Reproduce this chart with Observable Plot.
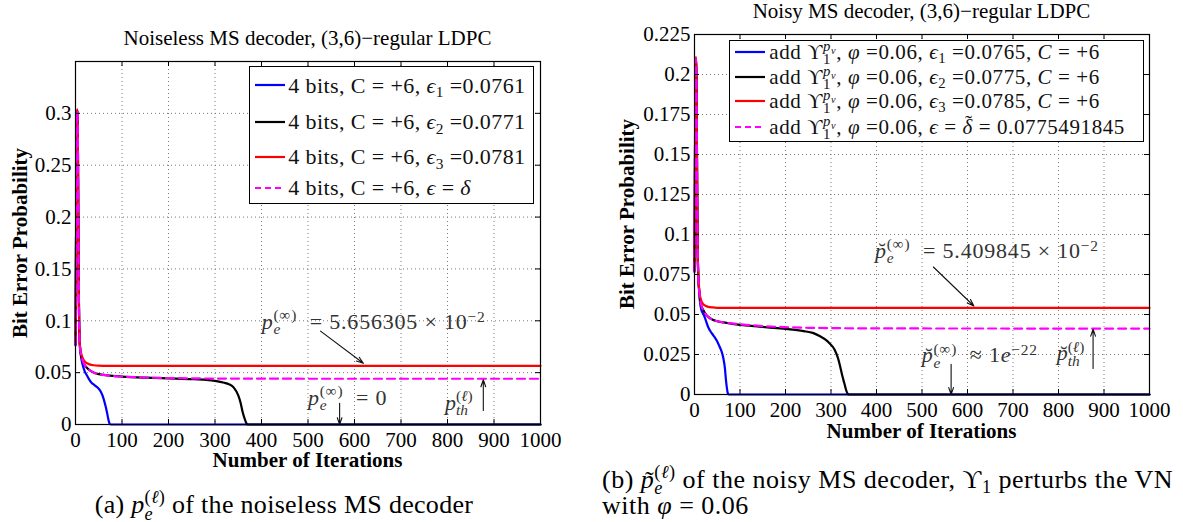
<!DOCTYPE html>
<html><head><meta charset="utf-8">
<script src="https://cdn.jsdelivr.net/npm/d3@7"></script>
<script src="https://cdn.jsdelivr.net/npm/@observablehq/plot@0.6"></script>
<style>
html,body{margin:0;padding:0;background:#fff;}
#wrap{position:relative;width:1183px;height:522px;overflow:hidden;font-family:"Liberation Serif","Times New Roman","DejaVu Serif",serif;color:#000;background:#fff;}
.pl{position:absolute;top:0;}
.t{position:absolute;white-space:nowrap;line-height:1;}
.ss{display:inline-block;position:relative;font-size:.7em;line-height:1;}
.ss .up{display:block;position:relative;top:-.55em;}
.ss .dn{position:absolute;left:0;top:.357em;}
.sb{position:relative;top:.28em;font-size:.7em;}
.sp{position:relative;top:-.45em;font-size:.7em;}
.acc{position:relative;display:inline-block;}
.acc .mk{position:absolute;font-style:normal;}
.leg{position:absolute;box-sizing:border-box;border:1.3px solid #000;background:#fff;}
</style>
</head><body>
<div id="wrap"></div>
<script>
// ---------- data: panel (a) noiseless MS decoder ----------
const xTicks = [0,100,200,300,400,500,600,700,800,900,1000];
const yTicksA = [0,0.05,0.1,0.15,0.2,0.25,0.3];
const yTicksB = [0,0.025,0.05,0.075,0.1,0.125,0.15,0.175,0.2,0.225];

const itBlueA = [0,1,2,3,4,5,6,7,8,9,10,12,15,20,25,30,35,40,45,50,55,60,65,68,70,72,74,76,100,400,1000];
const pBlueA  = [0.0761,0.16,0.25,0.295,0.303,0.28,0.2,0.13,0.095,0.08,0.072,0.065,0.058,0.051,0.047,0.043,0.040,0.0383,0.0365,0.0345,0.031,0.0255,0.017,0.011,0.0065,0.0025,0.0003,0,0,0,0];
const itBlackA = [0,1,2,3,4,5,6,7,8,9,10,12,15,20,25,30,40,50,60,80,100,150,200,250,280,300,320,330,340,350,355,360,365,368,370,400,1000];
const pBlackA  = [0.0771,0.16,0.25,0.295,0.303,0.28,0.2,0.13,0.095,0.08,0.073,0.067,0.062,0.057,0.0545,0.0525,0.050,0.0486,0.0478,0.0468,0.0462,0.0452,0.0445,0.0438,0.0430,0.0420,0.0402,0.0388,0.0358,0.028,0.021,0.011,0.004,0.0008,0,0,0];
const itRedA = [0,1,2,3,4,5,6,7,8,9,10,12,15,20,25,30,40,50,70,100,1000];
const pRedA  = [0.0781,0.16,0.25,0.295,0.304,0.28,0.2,0.13,0.095,0.08,0.074,0.069,0.0645,0.0607,0.0590,0.0580,0.0571,0.0568,0.0566,0.05657,0.05656];
const itMagA = [0,1,2,3,4,5,6,7,8,9,10,12,15,20,25,30,40,50,60,80,100,150,200,250,300,400,600,1000];
const pMagA  = [0.0775,0.16,0.25,0.295,0.302,0.28,0.2,0.13,0.095,0.08,0.073,0.067,0.062,0.057,0.0545,0.0525,0.050,0.0486,0.0478,0.0468,0.0462,0.0453,0.0448,0.0445,0.0443,0.0442,0.0441,0.0441];

// ---------- data: panel (b) noisy MS decoder ----------
const itBlueB = [0,1,2,3,4,5,6,7,8,9,10,12,15,20,25,30,35,40,45,50,55,60,64,67,69,71,73,75,100,1000];
const pBlueB  = [0.0765,0.14,0.195,0.21,0.203,0.17,0.12,0.09,0.077,0.07,0.065,0.058,0.053,0.050,0.0462,0.0422,0.0395,0.0375,0.0355,0.0332,0.030,0.0265,0.0218,0.016,0.0094,0.0045,0.001,0,0,0];
const itBlackB = [0,1,2,3,4,5,6,7,8,9,10,12,15,20,25,30,40,50,60,80,120,160,200,240,260,276,290,296,308,315,320,325,329,333,337,340,1000];
const pBlackB  = [0.0775,0.14,0.195,0.21,0.203,0.17,0.12,0.09,0.077,0.07,0.066,0.060,0.0555,0.0525,0.050,0.0485,0.0467,0.0458,0.0452,0.0443,0.0430,0.0420,0.0410,0.0396,0.0385,0.0364,0.0338,0.0322,0.028,0.023,0.0177,0.0115,0.0073,0.003,0.0003,0,0];
const itRedB = [0,1,2,3,4,5,6,7,8,9,10,12,15,20,25,30,40,50,70,100,1000];
const pRedB  = [0.0785,0.14,0.195,0.211,0.205,0.17,0.12,0.09,0.078,0.071,0.067,0.062,0.0585,0.0562,0.0553,0.0548,0.0544,0.0542,0.05412,0.0541,0.0541];
const itMagB = [0,1,2,3,4,5,6,7,8,9,10,12,15,20,25,30,40,50,60,80,120,160,200,250,300,400,600,1000];
const pMagB  = [0.07755,0.14,0.195,0.21,0.203,0.17,0.12,0.09,0.077,0.07,0.066,0.060,0.0555,0.0525,0.050,0.0485,0.0467,0.0458,0.0452,0.0445,0.0434,0.0426,0.0421,0.0417,0.0415,0.0413,0.04125,0.0412];

// annotation arrows (data units)
const arrowsA = [{x1:527,y1:0.090,x2:619,y2:0.059},{x1:568,y1:0.0205,x2:568,y2:0},{x1:877,y1:0.0135,x2:877,y2:0.0431}];
const arrowsB = [{x1:525,y1:0.0797,x2:614,y2:0.0553},{x1:564,y1:0.0189,x2:564,y2:0},{x1:876,y1:0.0163,x2:876,y2:0.0408}];

const colors = {blue:"#0000ff", black:"#000000", red:"#ff0000", mag:"#ff00ff"};

function series(it, p){ return it.map((x,i)=>({x, y:p[i]})); }

function panel({width, height, mt, mr, mb, ml, ymax, yTicks, curves, arrows}){
  const ih = height - mt - mb, iw = width - ml - mr;
  const fmt = d => String(d);
  return Plot.plot({
    width, height, marginTop: mt, marginRight: mr, marginBottom: mb, marginLeft: ml,
    x: {domain: [0, 1000]},
    y: {domain: [0, ymax]},
    style: {fontFamily: '"Liberation Serif","Times New Roman",serif', fontSize: "21px", background: "transparent", overflow: "visible", color: "#000"},
    marks: [
      Plot.gridX(xTicks, {stroke: "#7a7a7a", strokeOpacity: 1, strokeDasharray: "1,3", strokeWidth: 1}),
      Plot.gridY(yTicks, {stroke: "#7a7a7a", strokeOpacity: 1, strokeDasharray: "1,3", strokeWidth: 1}),
      ...curves.map(c => Plot.line(series(c.it, c.p), {x: "x", y: "y", stroke: c.color, strokeWidth: 2.2, curve: "monotone-x", strokeDasharray: c.dash || null})),
      Plot.ruleX(xTicks, {insetTop: ih - 5, stroke: "#000"}),
      Plot.ruleX(xTicks, {insetBottom: ih - 5, stroke: "#000"}),
      Plot.ruleY(yTicks, {insetRight: iw - 5, stroke: "#000"}),
      Plot.ruleY(yTicks, {insetLeft: iw - 5, stroke: "#000"}),
      Plot.frame({stroke: "#000", strokeWidth: 1.2}),
      Plot.axisX(xTicks, {tickSize: 0, tickPadding: 8, label: null, tickFormat: fmt}),
      Plot.axisY(yTicks, {tickSize: 0, tickPadding: 4, label: null, tickFormat: fmt}),
      Plot.arrow(arrows, {x1: "x1", y1: "y1", x2: "x2", y2: "y2", stroke: "#111", strokeWidth: 1.1, headLength: 10, headAngle: 38})
    ]
  });
}

const wrap = document.getElementById("wrap");

const plotA = panel({width: 591, height: 522, mt: 61, mr: 51, mb: 98, ml: 75, ymax: 0.35, yTicks: yTicksA, arrows: arrowsA,
  curves: [
    {it: itBlueA, p: pBlueA, color: colors.blue},
    {it: itBlackA, p: pBlackA, color: colors.black},
    {it: itRedA, p: pRedA, color: colors.red},
    {it: itMagA, p: pMagA, color: colors.mag, dash: "8,5"}
  ]});
plotA.classList.add("pl"); plotA.style.left = "0px";
wrap.appendChild(plotA);

const plotB = panel({width: 592, height: 522, mt: 34, mr: 34, mb: 128, ml: 103, ymax: 0.225, yTicks: yTicksB, arrows: arrowsB,
  curves: [
    {it: itBlueB, p: pBlueB, color: colors.blue},
    {it: itBlackB, p: pBlackB, color: colors.black},
    {it: itRedB, p: pRedB, color: colors.red},
    {it: itMagB, p: pMagB, color: colors.mag, dash: "8,5"}
  ]});
plotB.classList.add("pl"); plotB.style.left = "591px";
wrap.appendChild(plotB);

// ---------- text helpers ----------
function ss(up, dn){ return `<span class="ss"><span class="up">${up}</span><span class="dn">${dn}</span></span>`; }
function acc(ch, mark, top, left){ return `<span class="acc"><i>${ch}</i><span class="mk" style="top:${top}em;left:${left}em">${mark}</span></span>`; }
function put(html, x, base, size, o = {}){
  const d = document.createElement("div");
  d.className = "t"; d.innerHTML = html;
  d.style.fontSize = size + "px";
  d.style.left = x + "px";
  d.style.top = (base - 0.8375 * size) + "px";
  if (o.color) d.style.color = o.color;
  if (o.bold) d.style.fontWeight = "bold";
  if (o.ls) d.style.letterSpacing = o.ls + "px";
  if (o.middle) d.style.transform = "translateX(-50%)";
  (o.parent || wrap).appendChild(d);
  return d;
}
function putC(html, cx, cy, size, o = {}){ return put(html, cx, cy + 0.3375 * size, size, {...o, middle: true}); }
function putRot(html, cx, cy, size){
  const d = document.createElement("div");
  d.className = "t"; d.innerHTML = html;
  d.style.fontSize = size + "px"; d.style.fontWeight = "bold";
  d.style.left = cx + "px"; d.style.top = cy + "px";
  d.style.transform = "translate(-50%,-50%) rotate(-90deg)";
  wrap.appendChild(d);
}
function legend(box, rows, size, ls){
  const L = document.createElement("div");
  L.className = "leg";
  L.style.left = box.left + "px"; L.style.top = box.top + "px";
  L.style.width = box.w + "px"; L.style.height = box.h + "px";
  wrap.appendChild(L);
  rows.forEach(r => {
    const s = document.createElementNS("http://www.w3.org/2000/svg", "svg");
    s.setAttribute("width", 30); s.setAttribute("height", 6);
    s.style.position = "absolute"; s.style.left = box.sx + "px"; s.style.top = (r.cy - 3) + "px";
    const ln = document.createElementNS("http://www.w3.org/2000/svg", "line");
    ln.setAttribute("x1", 0); ln.setAttribute("x2", 30); ln.setAttribute("y1", 3); ln.setAttribute("y2", 3);
    ln.setAttribute("stroke", r.color); ln.setAttribute("stroke-width", 2.2);
    if (r.dash) ln.setAttribute("stroke-dasharray", r.dash);
    s.appendChild(ln); wrap.appendChild(s);
    put(r.html, box.tx, r.cy + 8, size, {color: "#111", ls});
  });
}

// ---------- panel (a) text ----------
putC("Noiseless MS decoder, (3,6)−regular LDPC", 307.5, 38, 21);
putC("Number of Iterations", 307.5, 460, 21, {bold: true});
putRot("Bit Error Probability", 20, 242.5, 21);
const eps = n => `<i>ϵ</i><span class="sb">${n}</span>`;
legend({left: 249, top: 66, w: 285, h: 138, sx: 255, tx: 288.3}, [
  {cy: 85, color: colors.blue, html: `4 bits, C = +6, ${eps(1)} =0.0761`},
  {cy: 121.7, color: colors.black, html: `4 bits, C = +6, ${eps(2)} =0.0771`},
  {cy: 156.7, color: colors.red, html: `4 bits, C = +6, ${eps(3)} =0.0781`},
  {cy: 187.7, color: colors.mag, dash: "6,4", html: `4 bits, C = +6, <i>ϵ</i> = <i>δ</i>`}
], 22, 0.4);
const pe = ss("(∞)", "<i>e</i>");
put(`<i>p</i>${pe}&nbsp; = 5.656305 × 10<span class="sp">−2</span>`, 261.7, 329.3, 22, {color: "#333", ls: 0.8});
put(`<i>p</i>${pe}&nbsp; = 0`, 308, 405, 22, {color: "#333", ls: 0.8});
put(`<i>p</i>${ss("(<i>ℓ</i>)", "<i>th</i>")}`, 445, 410, 22, {color: "#333"});
putC(`(a) <i>p</i>${ss("(<i>ℓ</i>)", "<i>e</i>")} of the noiseless MS decoder`, 284, 514 - 0.3375 * 26, 26, {ls: 0.3});

// ---------- panel (b) text ----------
putC("Noisy MS decoder, (3,6)−regular LDPC", 921.5, 12, 21);
putC("Number of Iterations", 921.5, 431.7, 21, {bold: true});
putRot("Bit Error Probability", 626.5, 214, 21);
const ups = `ϒ${ss('<i>p</i><span class="sb"><i>v</i></span>', "1")}`;
legend({left: 729.3, top: 40, w: 414.7, h: 101.7, sx: 735, tx: 769.3}, [
  {cy: 51.7, color: colors.blue, html: `add ${ups}, <i>φ</i> =0.06, ${eps(1)} =0.0765, <i>C</i> = +6`},
  {cy: 76.7, color: colors.black, html: `add ${ups}, <i>φ</i> =0.06, ${eps(2)} =0.0775, <i>C</i> = +6`},
  {cy: 100.7, color: colors.red, html: `add ${ups}, <i>φ</i> =0.06, ${eps(3)} =0.0785, <i>C</i> = +6`},
  {cy: 126.7, color: colors.mag, dash: "6,4", html: `add ${ups}, <i>φ</i> =0.06, <i>ϵ</i> = ${acc("δ", "˜", -0.2, 0.12)} = 0.0775491845`}
], 21, 0.6);
const pb = acc("p", "˘", 0.02, 0.16);
put(`${pb}${pe}&nbsp; = 5.409845 × 10<span class="sp">−2</span>`, 875, 258.3, 22, {color: "#333", ls: 0.8});
put(`${pb}${pe}&nbsp; ≈ 1<i>e</i><span class="sp">−22</span>`, 921.7, 362.7, 22, {color: "#333", ls: 0.8});
put(`${pb}${ss("(<i>ℓ</i>)", "<i>th</i>")}`, 1056.7, 360.7, 22, {color: "#333"});
put(`(b) ${acc("p", "˜", 0.04, 0.16)}${ss("(<i>ℓ</i>)", "<i>e</i>")} of the noisy MS decoder, ϒ<span class="sb">1</span> perturbs the VN`, 602, 488.3, 26, {ls: 0.5});
put(`with <i>φ</i> = 0.06`, 602, 515, 26, {ls: 0.5});
</script>
</body></html>
